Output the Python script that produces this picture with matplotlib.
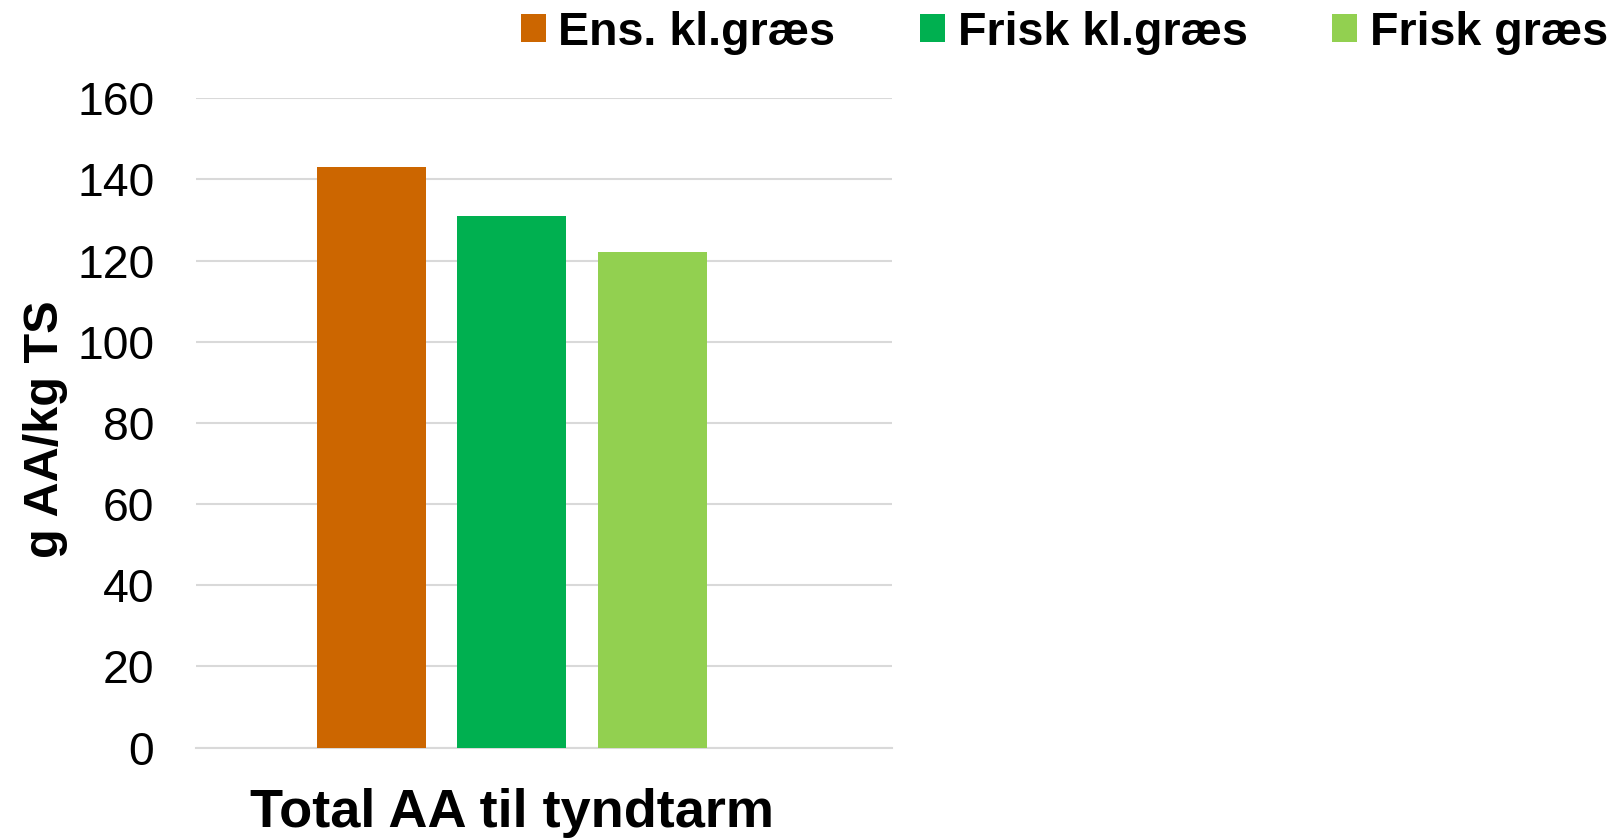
import numpy as np
import matplotlib
matplotlib.use("Agg")
import matplotlib.pyplot as plt

plt.rcParams['font.family'] = ['Liberation Sans', 'DejaVu Sans']

category = "Total AA til tyndtarm"
series = ["Ens. kl.græs", "Frisk kl.græs", "Frisk græs"]
values = [143, 131, 122]
colors = ["#CC6600", "#00B050", "#92D050"]
yticks = [0, 20, 40, 60, 80, 100, 120, 140, 160]

fig = plt.figure(figsize=(16.21, 8.40), dpi=100)
ax = fig.add_axes([0.1209, 0.110, 0.4294, 0.773])

width = 0.28
offsets = [-0.36, 0.0, 0.36]
for name, val, col, off in zip(series, values, colors, offsets):
    ax.bar(off, val, width=width, color=col, label=name, zorder=3)

ax.set_xlim(-0.81, 0.975)
ax.set_ylim(0, 160)
ax.set_yticks(yticks)
ax.set_yticklabels([str(t) for t in yticks], fontsize=33.4)
ax.set_xticks([0])
ax.set_xticklabels([category], fontsize=39, fontweight='bold')
ax.tick_params(axis='y', length=0, pad=30)
ax.tick_params(axis='x', length=0, pad=29)

ax.grid(axis='y', color='#d9d9d9', linewidth=1.5, zorder=0)
for s in ['top', 'right', 'left']:
    ax.spines[s].set_visible(False)
ax.spines['bottom'].set_color('#d9d9d9')
ax.spines['bottom'].set_linewidth(1.5)

ax.set_ylabel("g AA/kg TS", fontsize=35, fontweight='bold')
ax.yaxis.set_label_coords(-0.184, 0.49)

fig.legend(loc='upper left', bbox_to_anchor=(499 / 1568, 0.993), ncol=3,
           frameon=False, prop={'size': 33.6, 'weight': 'bold'},
           handlelength=0.54, handleheight=0.54, handletextpad=0.27,
           columnspacing=1.81, borderaxespad=0, borderpad=0.1)

fig.savefig("out.png", dpi=100)
